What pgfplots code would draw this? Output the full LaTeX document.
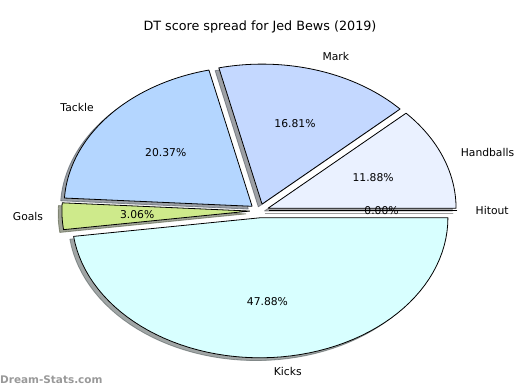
\documentclass[border=0pt]{standalone}
\usepackage{pgfplots}
\usepackage{pgfplotstable}
\pgfplotsset{compat=1.18}
\usepackage{fontspec}
\setmainfont{DejaVu Sans}
\definecolor{cHand}{HTML}{EAF1FF}
\definecolor{cMark}{HTML}{C4D8FF}
\definecolor{cTack}{HTML}{B4D6FF}
\definecolor{cGoal}{HTML}{CEEA8B}
\definecolor{cKick}{HTML}{D8FFFF}
\definecolor{cHit}{HTML}{F0F0F0}
\colorlet{shHand}{cHand!30!black}
\colorlet{shMark}{cMark!30!black}
\colorlet{shTack}{cTack!30!black}
\colorlet{shGoal}{cGoal!30!black}
\colorlet{shKick}{cKick!30!black}
\colorlet{shHit}{cHit!30!black}
\colorlet{wmgray}{black!40}

\pgfplotstableread{
label value col sh
Handballs 11.88 cHand shHand
Mark 16.81 cMark shMark
Tackle 20.37 cTack shTack
Goals 3.06 cGoal shGoal
Kicks 47.88 cKick shKick
Hitout 0.00 cHit shHit
}\piedata

\def\CX{259.3}\def\CY{179.2}\def\RX{188}\def\RY{140}\def\EX{0.05}
\def\SX{-3.76}\def\SY{-2.8}
\newcommand\SL[2]{\csname s#1#2\endcsname}

\begin{document}
\begin{tikzpicture}
\gdef\cum{0}
\foreach \i in {0,...,5}{%
  \pgfplotstablegetelem{\i}{value}\of\piedata \let\v\pgfplotsretval
  \pgfplotstablegetelem{\i}{label}\of\piedata \let\lab\pgfplotsretval
  \pgfplotstablegetelem{\i}{col}\of\piedata \let\c\pgfplotsretval
  \pgfplotstablegetelem{\i}{sh}\of\piedata \let\s\pgfplotsretval
  \pgfmathsetmacro\a{\cum*3.6}%
  \pgfmathsetmacro\b{(\cum+\v)*3.6}%
  \pgfmathsetmacro\m{(\a+\b)/2}%
  \pgfmathsetmacro\ax{\CX+\EX*\RX*cos(\m)}%
  \pgfmathsetmacro\ay{\CY+\EX*\RY*sin(\m)}%
  \pgfmathsetmacro\lx{\ax+1.1*\RX*cos(\m)}%
  \pgfmathsetmacro\ly{\ay+1.1*\RY*sin(\m)}%
  \pgfmathsetmacro\px{\ax+0.6*\RX*cos(\m)}%
  \pgfmathsetmacro\py{\ay+0.6*\RY*sin(\m)}%
  \pgfmathparse{cos(\m)>0 ? 1 : 0}%
  \ifdim\pgfmathresult pt>0.5pt \def\anc{west}\else\def\anc{east}\fi
  \expandafter\xdef\csname sa\i\endcsname{\a}%
  \expandafter\xdef\csname sb\i\endcsname{\b}%
  \expandafter\xdef\csname sax\i\endcsname{\ax}%
  \expandafter\xdef\csname say\i\endcsname{\ay}%
  \expandafter\xdef\csname slx\i\endcsname{\lx}%
  \expandafter\xdef\csname sly\i\endcsname{\ly}%
  \expandafter\xdef\csname spx\i\endcsname{\px}%
  \expandafter\xdef\csname spy\i\endcsname{\py}%
  \expandafter\xdef\csname sanc\i\endcsname{\anc}%
  \expandafter\xdef\csname slab\i\endcsname{\lab}%
  \expandafter\xdef\csname sv\i\endcsname{\v}%
  \expandafter\xdef\csname scol\i\endcsname{\c}%
  \expandafter\xdef\csname ssh\i\endcsname{\s}%
  \pgfmathsetmacro\newcum{\cum+\v}%
  \xdef\cum{\newcum}%
}
\begin{axis}[
  width=520bp, height=390bp, scale only axis,
  xmin=0, xmax=520, ymin=0, ymax=390,
  hide axis, clip=false,
]
% shadows
\pgfplotsinvokeforeach{0,...,5}{
  \addplot[fill=\SL{sh}{#1}, draw=\SL{sh}{#1}, fill opacity=0.5, draw opacity=0.5,
    line width=0.8bp, line join=round, domain=0:62, samples=63, variable=\t]
    ({((\t<0.5) || (\t>61.5)) ? (\SL{ax}{#1}+\SX) : (\SL{ax}{#1}+\SX+\RX*cos(\SL{a}{#1}+(\t-1)*(\SL{b}{#1}-\SL{a}{#1})/60))},
     {((\t<0.5) || (\t>61.5)) ? (\SL{ay}{#1}+\SY) : (\SL{ay}{#1}+\SY+\RY*sin(\SL{a}{#1}+(\t-1)*(\SL{b}{#1}-\SL{a}{#1})/60))});
}
% wedges
\pgfplotsinvokeforeach{0,...,5}{
  \addplot[fill=\SL{col}{#1}, draw=black, line width=0.8bp, line join=round,
    domain=0:62, samples=63, variable=\t]
    ({((\t<0.5) || (\t>61.5)) ? (\SL{ax}{#1}) : (\SL{ax}{#1}+\RX*cos(\SL{a}{#1}+(\t-1)*(\SL{b}{#1}-\SL{a}{#1})/60))},
     {((\t<0.5) || (\t>61.5)) ? (\SL{ay}{#1}) : (\SL{ay}{#1}+\RY*sin(\SL{a}{#1}+(\t-1)*(\SL{b}{#1}-\SL{a}{#1})/60))});
}
% labels
\pgfplotsinvokeforeach{0,...,5}{
  \node[anchor=\SL{anc}{#1}, inner sep=0pt, font=\fontsize{10.8}{13}\selectfont]
    at (axis cs:\SL{lx}{#1},\SL{ly}{#1}) {\SL{lab}{#1}};
  \node[anchor=center, inner sep=0pt, font=\fontsize{10.8}{13}\selectfont]
    at (axis cs:\SL{px}{#1},\SL{py}{#1}) {\SL{v}{#1}\%};
}
\node[font=\fontsize{12.8}{15}\selectfont, inner sep=0pt] at (axis cs:260,363)
  {DT score spread for Jed Bews (2019)};
\node[font=\fontsize{10.5}{13}\selectfont\bfseries, text=wmgray, anchor=west, inner sep=0pt]
  at (axis cs:0,10) {Dream-Stats.com};
\end{axis}
\pgfresetboundingbox
\path (current axis.south west) rectangle (current axis.north east);
\end{tikzpicture}
\end{document}
